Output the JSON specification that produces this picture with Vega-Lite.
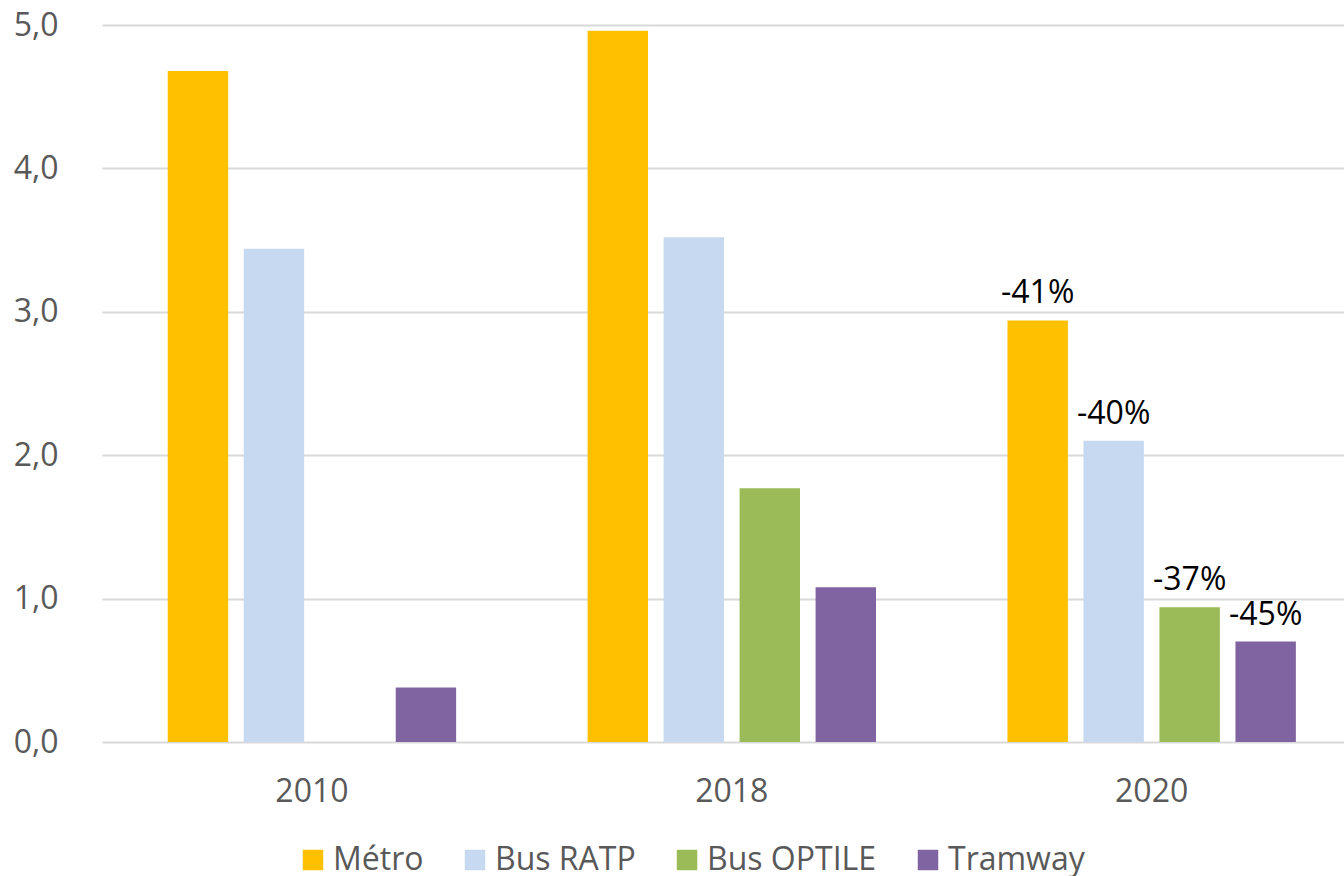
{
  "$schema": "https://vega.github.io/schema/vega-lite/v6.json",
  "autosize": {"type": "none"},
  "padding": {"left": 102, "top": 25, "right": 0, "bottom": 134},
  "width": 1242,
  "height": 717,
  "background": "white",
  "data": {
    "values": [
      {"year": "2010", "mode": "Métro", "value": 4.68, "label": null},
      {"year": "2010", "mode": "Bus RATP", "value": 3.44, "label": null},
      {"year": "2010", "mode": "Tramway", "value": 0.38, "label": null},
      {"year": "2018", "mode": "Métro", "value": 4.96, "label": null},
      {"year": "2018", "mode": "Bus RATP", "value": 3.52, "label": null},
      {"year": "2018", "mode": "Bus OPTILE", "value": 1.77, "label": null},
      {"year": "2018", "mode": "Tramway", "value": 1.08, "label": null},
      {"year": "2020", "mode": "Métro", "value": 2.94, "label": "-41%"},
      {"year": "2020", "mode": "Bus RATP", "value": 2.10, "label": "-40%"},
      {"year": "2020", "mode": "Bus OPTILE", "value": 0.94, "label": "-37%"},
      {"year": "2020", "mode": "Tramway", "value": 0.70, "label": "-45%"}
    ]
  },
  "encoding": {
    "x": {
      "field": "year", "type": "nominal",
      "scale": {"range": [0, 1259.6], "paddingInner": 0, "paddingOuter": 0},
      "axis": {
        "title": null, "labelAngle": 0, "domain": false, "ticks": false,
        "labelFont": "Open Sans", "labelFontSize": 32, "labelColor": "#595959",
        "labelPadding": 34
      }
    },
    "xOffset": {
      "field": "mode", "type": "nominal",
      "scale": {"domain": ["Métro", "Bus RATP", "Bus OPTILE", "Tramway"], "paddingInner": 0.205, "paddingOuter": 0.865}
    },
    "y": {
      "field": "value", "type": "quantitative",
      "scale": {"domain": [0, 5], "nice": false},
      "axis": {
        "title": null, "values": [0, 1, 2, 3, 4, 5], "domain": false, "ticks": false,
        "grid": true, "gridColor": "#d9d9d9", "gridWidth": 2,
        "labelFont": "Open Sans", "labelFontSize": 32, "labelColor": "#595959",
        "labelPadding": 44,
        "labelExpr": "replace(format(datum.value, '.1f'), '.', ',')"
      }
    }
  },
  "layer": [
    {
      "mark": {"type": "bar"},
      "encoding": {
        "color": {
          "field": "mode", "type": "nominal",
          "scale": {"domain": ["Métro", "Bus RATP", "Bus OPTILE", "Tramway"], "range": ["#FFC000", "#C6D9F0", "#9BBB59", "#8064A2"]},
          "legend": {
            "title": null, "orient": "none", "direction": "horizontal", "columns": 4,
            "legendX": 195, "legendY": 819,
            "symbolType": "square", "symbolSize": 420, "symbolStrokeWidth": 0,
            "labelFont": "Open Sans", "labelFontSize": 32, "labelColor": "#595959",
            "labelOffset": 4, "columnPadding": 35, "labelLimit": 0, "padding": 0
          }
        }
      }
    },
    {
      "transform": [{"filter": "datum.label != null"}],
      "mark": {"type": "text", "font": "Open Sans", "fontSize": 32, "color": "#000000", "baseline": "alphabetic", "dy": -17},
      "encoding": {"text": {"field": "label", "type": "nominal"}}
    }
  ],
  "config": {"view": {"stroke": null}}
}
